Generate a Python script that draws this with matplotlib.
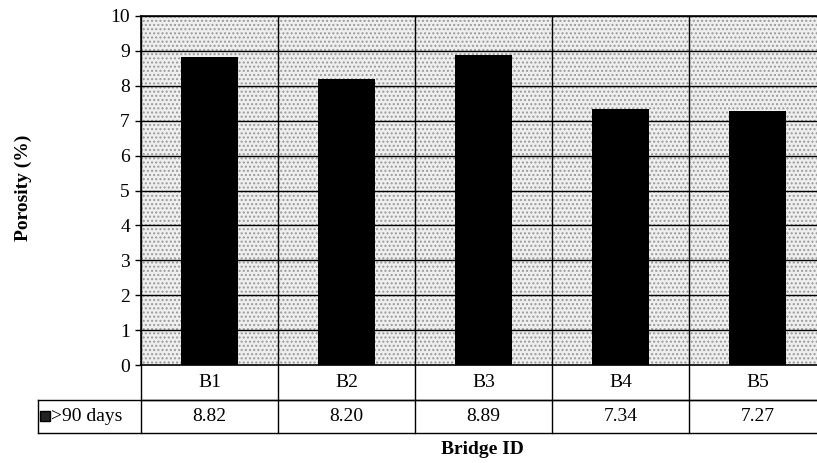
import numpy as np
import matplotlib.pyplot as plt
from matplotlib.patches import Rectangle

# porosity per bridge
bridges = ["B1", "B2", "B3", "B4", "B5"]
porosity = [8.82, 8.20, 8.89, 7.34, 7.27]
series_name = ">90 days"

plt.rcParams["font.family"] = ["Liberation Serif", "DejaVu Serif"]
fs = 14

fig = plt.figure(figsize=(8.17, 4.63), dpi=100)
ax = fig.add_axes([141 / 817, 98 / 463, 685 / 817, 349 / 463])

x = np.arange(len(bridges))
ax.set_xlim(-0.5, len(bridges) - 0.5)
ax.set_ylim(0, 10)

# stippled grey background
ax.set_facecolor("#efefef")
bg = Rectangle((0, 0), 1, 1, transform=ax.transAxes, facecolor="none",
               edgecolor="#9a9a9a", hatch="....", linewidth=0, zorder=0)
ax.add_patch(bg)

ax.bar(x, porosity, width=0.41, color="black", zorder=3)

# gridlines
for yv in range(1, 11):
    ax.axhline(yv, color="black", linewidth=1.0, zorder=2)
for xv in np.arange(-0.5, len(bridges), 1.0):
    ax.axvline(xv, color="black", linewidth=1.0, zorder=2)

ax.set_yticks(range(0, 11))
ax.tick_params(axis="y", length=4, width=1, pad=4, labelsize=fs)
ax.set_xticks([])
for s in ax.spines.values():
    s.set_linewidth(1.2)

# data table under the axis
tr = ax.get_xaxis_transform()
left = -1.252
r1 = -0.1003
r2 = -0.1948
right = len(bridges) - 0.5
lk = dict(color="black", linewidth=1.0, transform=tr, clip_on=False)
ax.plot([-0.5, right], [r1, r1], **lk)
ax.plot([left, right], [r1, r1], **lk)
ax.plot([left, right], [r2, r2], **lk)
ax.plot([left, left], [r1, r2], **lk)
for xv in np.arange(-0.5, len(bridges), 1.0):
    ax.plot([xv, xv], [0, r2], **lk)

for xi, name, val in zip(x, bridges, porosity):
    ax.text(xi, (0 + r1) / 2, name, transform=tr, ha="center", va="center",
            fontsize=fs)
    ax.text(xi, (r1 + r2) / 2, f"{val:.2f}", transform=tr, ha="center",
            va="center", fontsize=fs)

ax.plot([left + 0.05], [(r1 + r2) / 2], marker="s", markersize=7.5,
        markerfacecolor="#222222", markeredgecolor="black", transform=tr,
        clip_on=False)
ax.text(left + 0.095, (r1 + r2) / 2, series_name, transform=tr, ha="left",
        va="center", fontsize=fs)

fig.text(23 / 817, 1 - 188 / 463, "Porosity (%)", rotation=90, ha="center",
         va="center", fontsize=fs, fontweight="bold")
fig.text(482 / 817, 1 - 450 / 463, "Bridge ID", ha="center", va="center",
         fontsize=fs, fontweight="bold")

fig.savefig("out.png", dpi=100)
